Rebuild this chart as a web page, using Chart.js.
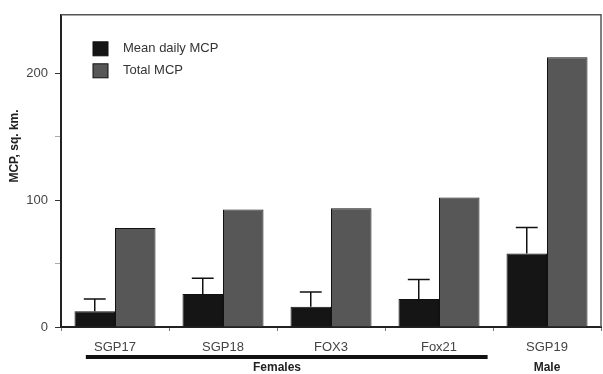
<!DOCTYPE html>
<html>
<head>
<meta charset="utf-8">
<script src="https://cdn.jsdelivr.net/npm/chart.js@4"></script>
<style>
  html, body { margin: 0; padding: 0; background: #fff; }
</style>
</head>
<body>
<canvas id="chart" width="603" height="374"></canvas>
<script>
let animals = ["SGP17", "SGP18", "FOX3", "Fox21", "SGP19"];
let meanDaily = [12.5, 26, 16, 22, 58];
let meanDailyErr = [9.5, 12.5, 11.5, 15.5, 20.5];
let totalMcp = [78, 92.5, 93.5, 102, 212.5];
let yTicks = [0, 50, 100, 150, 200];
let yLabels = ["0", "", "100", "", "200"];
let groups = [
  { label: "Females", from: 0, to: 3 },
  { label: "Male", from: 4, to: 4 }
];

let extras = {
  id: "extras",
  afterDatasetsDraw(chart) {
    let ctx = chart.ctx;
    let area = chart.chartArea;
    let x = chart.scales.x;
    let y = chart.scales.y;
    let meta = chart.getDatasetMeta(0);

    ctx.save();
    // frame top / right
    ctx.strokeStyle = "#555";
    ctx.lineWidth = 1.5;
    ctx.beginPath();
    ctx.moveTo(area.left, area.top);
    ctx.lineTo(area.right, area.top);
    ctx.lineTo(area.right, area.bottom);
    ctx.stroke();

    // error bars
    ctx.strokeStyle = "#111";
    ctx.lineWidth = 1.5;
    meta.data.forEach((bar, i) => {
      let top = y.getPixelForValue(meanDaily[i] + meanDailyErr[i]);
      let w = bar.width * 0.27;
      ctx.beginPath();
      ctx.moveTo(bar.x, bar.y);
      ctx.lineTo(bar.x, top);
      ctx.moveTo(bar.x - w, top);
      ctx.lineTo(bar.x + w, top);
      ctx.stroke();
    });

    // legend
    ctx.font = "13px Arial, 'Liberation Sans'";
    ctx.textBaseline = "middle";
    ctx.textAlign = "left";
    chart.data.datasets.forEach((ds, i) => {
      let ly = area.top + 27 + i * 22;
      ctx.fillStyle = ds.backgroundColor;
      ctx.fillRect(area.left + 32, ly, 15, 14);
      ctx.strokeStyle = "#111";
      ctx.lineWidth = 1;
      ctx.strokeRect(area.left + 32, ly, 15, 14);
      ctx.fillStyle = "#333";
      ctx.fillText(ds.label, area.left + 62, ly + 7);
    });

    // y title
    ctx.save();
    ctx.translate(15, 146);
    ctx.rotate(-Math.PI / 2);
    ctx.font = "bold 12px Arial, 'Liberation Sans'";
    ctx.textAlign = "center";
    ctx.fillStyle = "#222";
    ctx.fillText("MCP, sq. km.", 0, 0);
    ctx.restore();

    // group bars and labels
    let step = x.getPixelForValue(1) - x.getPixelForValue(0);
    ctx.font = "bold 12px Arial, 'Liberation Sans'";
    ctx.textAlign = "center";
    groups.forEach((g) => {
      let x0 = x.getPixelForValue(g.from);
      let x1 = x.getPixelForValue(g.to);
      if (g.to > g.from) {
        ctx.fillStyle = "#111";
        ctx.fillRect(x0 - step * 0.27, area.bottom + 28, (x1 - x0) + step * 0.72, 4);
      }
      ctx.fillStyle = "#222";
      ctx.fillText(g.label, (x0 + x1) / 2, area.bottom + 41);
    });
    ctx.restore();
  }
};

new Chart(document.getElementById("chart"), {
  type: "bar",
  data: {
    labels: animals,
    datasets: [
      {
        label: "Mean daily MCP",
        data: meanDaily,
        backgroundColor: "#151515",
        borderColor: "#111",
        borderWidth: 1,
        barPercentage: 1,
        categoryPercentage: 0.75
      },
      {
        label: "Total MCP",
        data: totalMcp,
        backgroundColor: "#575757",
        borderColor: "#111",
        borderWidth: 1,
        barPercentage: 1,
        categoryPercentage: 0.75
      }
    ]
  },
  plugins: [extras],
  options: {
    responsive: false,
    animation: false,
    devicePixelRatio: 1,
    layout: { padding: { top: 13, right: 2, left: 0, bottom: 0 } },
    plugins: {
      legend: { display: false },
      tooltip: { enabled: false }
    },
    scales: {
      x: {
        grid: { drawOnChartArea: false, tickLength: 4, color: "#777", offset: true },
        border: { color: "#222", width: 2 },
        ticks: { color: "#444", font: { family: "Arial, 'Liberation Sans'", size: 13 }, padding: 9, maxRotation: 0 },
        afterFit(scale) { scale.height = 47; }
      },
      y: {
        min: 0,
        max: 246,
        afterBuildTicks(scale) { scale.ticks = yTicks.map((v) => ({ value: v })); },
        grid: {
          drawOnChartArea: false,
          tickLength: 6,
          color: (c) => (c.tick && c.tick.value % 100 === 0 ? "#333" : "#aaa")
        },
        border: { color: "#222", width: 2 },
        ticks: {
          color: "#444",
          font: { family: "Arial, 'Liberation Sans'", size: 13 },
          padding: 7,
          callback: (v) => yLabels[yTicks.indexOf(v)]
        },
        afterFit(scale) { scale.width = 61; }
      }
    }
  }
});
</script>
</body>
</html>
